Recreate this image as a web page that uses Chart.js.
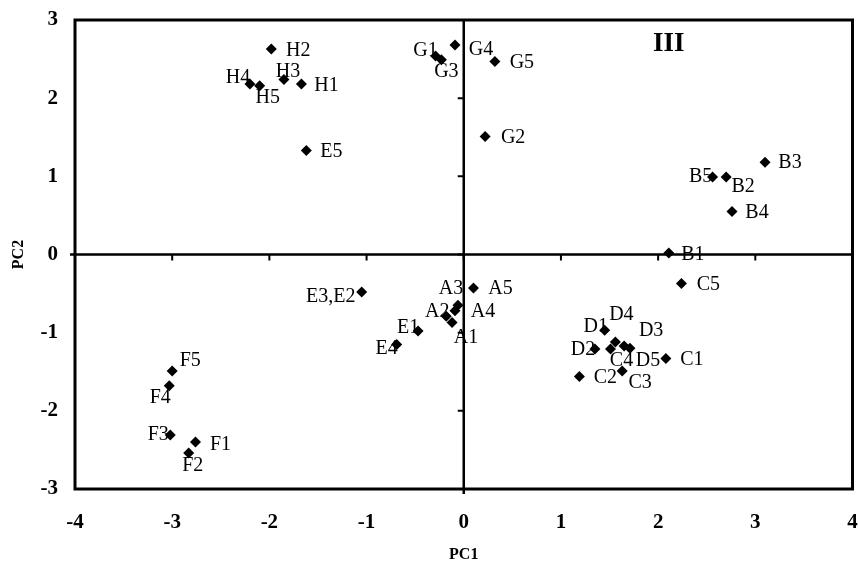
<!DOCTYPE html>
<html>
<head>
<meta charset="utf-8">
<script src="https://cdn.jsdelivr.net/npm/chart.js@4/dist/chart.umd.min.js"></script>
<style>
  html, body { margin: 0; padding: 0; background: #fff; }
  #wrap { width: 858px; height: 564px; }
</style>
</head>
<body>
<div id="wrap"><canvas id="c" width="858" height="564"></canvas></div>
<script>
// ---- data ----
const names = ["H1","H2","H3","H4","H5","E5","G1","G2","G3","G4","G5",
  "B1","B2","B3","B4","B5","C1","C2","C3","C4","C5",
  "D1","D2","D3","D4","D5","E3,E2","E1","E4",
  "A1","A2","A3","A4","A5","F1","F2","F3","F4","F5"];
const pc1 = [-1.67,-1.98,-1.85,-2.20,-2.10,-1.62,-0.29,0.22,-0.23,-0.09,0.32,
  2.11,2.70,3.10,2.76,2.56,2.08,1.19,1.63,1.51,2.24,
  1.45,1.35,1.65,1.56,1.71,-1.05,-0.47,-0.69,
  -0.12,-0.18,-0.06,-0.09,0.10,-2.76,-2.83,-3.02,-3.03,-3.00];
const pc2 = [2.18,2.63,2.24,2.18,2.16,1.33,2.54,1.51,2.49,2.68,2.47,
  0.02,0.99,1.18,0.55,0.99,-1.33,-1.56,-1.49,-1.21,-0.37,
  -0.97,-1.21,-1.17,-1.12,-1.20,-0.48,-0.98,-1.15,
  -0.87,-0.79,-0.65,-0.72,-0.43,-2.40,-2.54,-2.31,-1.68,-1.49];
const xTicks = [-4,-3,-2,-1,0,1,2,3,4];
const yTicks = [-3,-2,-1,0,1,2,3];
const quadrantLabel = "III";

// ---- label placement (pixel offsets of each label centre from its marker) ----
const labelDX = [25,27,4,-12,8,25,-10,28,5,26,27,
  24,17,25,25,-12,26,26,18,11,27,
  -9,-12,27,6,18,-31,-10,-10,
  14,-9,-7,28,27,25,4,-12,-9,18];
const labelDY = [1,1,-9,-7,11,0,-6,0,11,4,0,
  1,9,-1,0,-1,0,0,11,11,0,
  -5,0,-16,-28,11,4,-4,3,
  14,-6,-18,0,0,2,12,-1,11,-11];

const points = pc1.map((x, i) => ({x: x, y: pc2[i]}));
const SERIF = "'Liberation Serif', 'Times New Roman', serif";

const framePlugin = {
  id: 'frame',
  beforeDatasetsDraw(chart) {
    const {ctx, chartArea: a, scales: {x, y}} = chart;
    const x0 = x.getPixelForValue(0), y0 = y.getPixelForValue(0);
    ctx.save();
    ctx.strokeStyle = '#000';
    ctx.lineWidth = 3;
    ctx.strokeRect(a.left, a.top, a.right - a.left, a.bottom - a.top);
    ctx.lineWidth = 2.5;
    ctx.beginPath();
    ctx.moveTo(x0, a.top); ctx.lineTo(x0, a.bottom + 5);
    ctx.moveTo(a.left - 5, y0); ctx.lineTo(a.right, y0);
    ctx.stroke();
    ctx.lineWidth = 2;
    ctx.beginPath();
    yTicks.forEach(v => { const p = y.getPixelForValue(v); ctx.moveTo(x0, p); ctx.lineTo(x0 - 6, p); });
    xTicks.forEach(v => { const p = x.getPixelForValue(v); ctx.moveTo(p, y0); ctx.lineTo(p, y0 + 6); });
    ctx.stroke();
    ctx.restore();
  },
  afterDatasetsDraw(chart) {
    const {ctx, scales: {x, y}} = chart;
    ctx.save();
    ctx.fillStyle = '#000';
    ctx.font = "20px " + SERIF;
    ctx.textAlign = 'center';
    ctx.textBaseline = 'middle';
    names.forEach((n, i) => {
      const px = x.getPixelForValue(pc1[i]) + labelDX[i];
      const py = y.getPixelForValue(pc2[i]) + labelDY[i];
      ctx.fillText(n, px, py + 1);
    });
    ctx.font = "bold 27px " + SERIF;
    ctx.fillText(quadrantLabel, x.getPixelForValue(2.11), y.getPixelForValue(2.69));
    ctx.restore();
  }
};

new Chart(document.getElementById('c'), {
  type: 'scatter',
  data: {
    datasets: [{
      data: points,
      pointStyle: 'rectRot',
      pointRadius: 5.5,
      pointHoverRadius: 5.5,
      backgroundColor: '#000',
      borderColor: '#000',
      borderWidth: 0
    }]
  },
  options: {
    responsive: false,
    animation: false,
    events: [],
    layout: { padding: { top: 20, right: 5, left: 0, bottom: 0 } },
    plugins: { legend: { display: false }, tooltip: { enabled: false } },
    scales: {
      x: {
        type: 'linear', min: -4, max: 4,
        afterFit: s => { s.height = 75; s.paddingLeft = 0; s.paddingRight = 0; },
        afterBuildTicks: s => { s.ticks = xTicks.map(v => ({value: v})); },
        grid: { display: false, drawTicks: false },
        border: { display: false },
        ticks: { padding: 21, color: '#000', font: { family: SERIF, size: 21, weight: 'bold' } },
        title: { display: true, text: 'PC1', color: '#000', padding: { top: 0, bottom: 0 },
                 font: { family: SERIF, size: 16, weight: 'bold' } }
      },
      y: {
        type: 'linear', min: -3, max: 3,
        afterFit: s => { s.width = 75; s.paddingTop = 0; s.paddingBottom = 0; },
        afterBuildTicks: s => { s.ticks = yTicks.map(v => ({value: v})); },
        grid: { display: false, drawTicks: false },
        border: { display: false },
        ticks: { padding: 17, color: '#000', font: { family: SERIF, size: 21, weight: 'bold' } },
        title: { display: true, text: 'PC2', color: '#000', padding: { top: 9, bottom: 0 },
                 font: { family: SERIF, size: 16, weight: 'bold' } }
      }
    }
  },
  plugins: [framePlugin]
});
</script>
</body>
</html>
